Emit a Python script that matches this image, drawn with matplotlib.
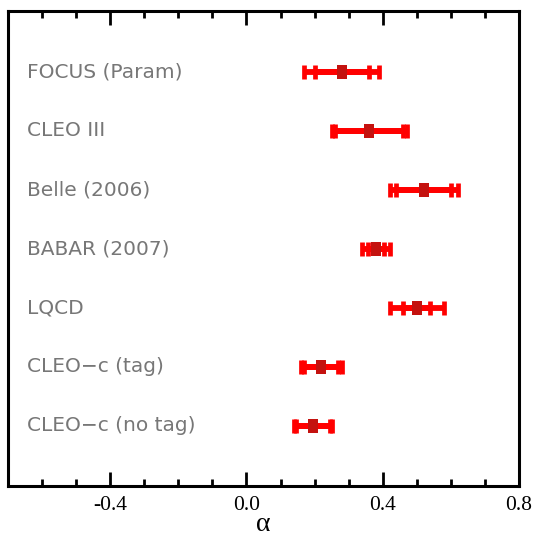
import matplotlib
matplotlib.use("Agg")
import matplotlib.pyplot as plt
import matplotlib.transforms as mtransforms
from matplotlib.ticker import MultipleLocator

labels = ["FOCUS (Param)", "CLEO III", "Belle (2006)", "BABAR (2007)",
          "LQCD", "CLEO\u2212c (tag)", "CLEO\u2212c (no tag)"]
centers = [0.28, 0.36, 0.52, 0.38, 0.50, 0.22, 0.195]
stat_err = [0.08, 0.10, 0.08, 0.023, 0.04, 0.05, 0.05]
total_err = [0.11, 0.11, 0.10, 0.04, 0.08, 0.06, 0.055]
xticks = [-0.4, 0.0, 0.4, 0.8]
xticklabels = ["-0.4", "0.0", "0.4", "0.8"]

fig = plt.figure(figsize=(5.35, 5.38), dpi=100)
ax = fig.add_axes([0.015, 0.0967, 0.955, 0.883])

n = len(labels)
ypos = [n - i for i in range(n)]

for x, y, s, t in zip(centers, ypos, stat_err, total_err):
    for e in (t, s):
        ax.errorbar([x], [y], xerr=[[e], [e]], fmt='none', ecolor='#ff0000',
                    elinewidth=4.2, capsize=4.8, capthick=3.4, zorder=2)

rect = [(-0.37, -0.5), (0.37, -0.5), (0.37, 0.5), (-0.37, 0.5), (-0.37, -0.5)]
ax.plot(centers, ypos, linestyle='none', marker=rect, markersize=10,
        color='#c4120f', markeredgewidth=0, zorder=3)

trans = mtransforms.blended_transform_factory(ax.transAxes, ax.transData)
for lab, y in zip(labels, ypos):
    ax.text(0.037, y, lab, transform=trans, ha='left', va='center',
            fontsize=14.5, color='#777777', family='DejaVu Sans')

ax.set_xlim(-0.7, 0.8)
ax.set_ylim(-0.02, 8.03)
ax.set_xticks(xticks)
ax.set_xticklabels(xticklabels, family='Liberation Serif', fontsize=15.5)
ax.xaxis.set_minor_locator(MultipleLocator(0.1))
ax.set_yticks([])
ax.tick_params(axis='x', which='major', direction='in', length=10, width=2,
               top=True, bottom=True, pad=7)
ax.tick_params(axis='x', which='minor', direction='in', length=5, width=2,
               top=True, bottom=True)
for sp in ax.spines.values():
    sp.set_linewidth(2.2)
ax.set_xlabel("\u03b1", family='Liberation Serif', fontsize=20, labelpad=-2)

fig.savefig("out.png", dpi=100)
